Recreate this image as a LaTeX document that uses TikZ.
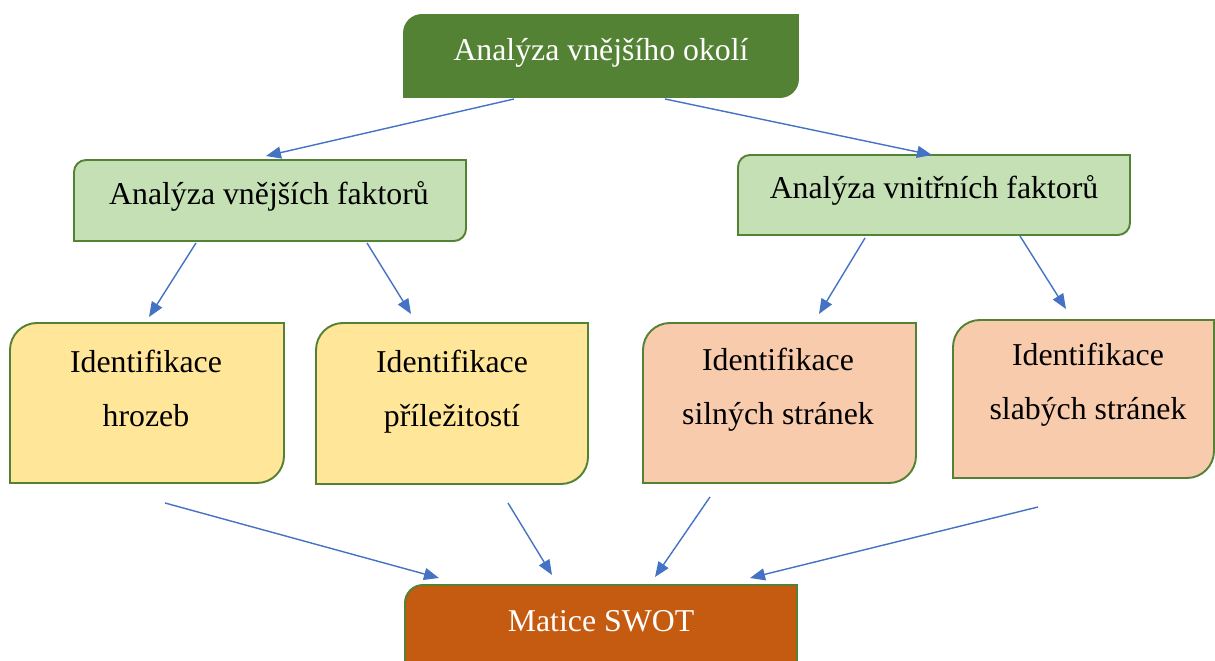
\documentclass[tikz,border=0pt]{standalone}
\usepackage{fontspec}
\setmainfont{Liberation Serif}
\usetikzlibrary{arrows.meta}
\definecolor{dkgreen}{HTML}{548235}
\definecolor{ltgreen}{HTML}{C5E0B4}
\definecolor{ltyellow}{HTML}{FFE699}
\definecolor{peach}{HTML}{F8CBAD}
\definecolor{burnt}{HTML}{C55A11}
\definecolor{arrowblue}{HTML}{4472C4}
% box with rounded top-left and bottom-right corners: left, top, right, bottom (px), radius, fill
\newcommand{\swotbox}[6]{\draw[boxline,fill=#6] (#1,-#2-#5) arc[start angle=180,end angle=90,radius=#5] -- (#3,-#2) -- (#3,-#4+#5) arc[start angle=0,end angle=-90,radius=#5] -- (#1,-#4) -- cycle;}
\begin{document}
\begin{tikzpicture}[x=0.02cm,y=0.02cm,
  lbl/.style={font=\fontsize{18.1}{31.3}\selectfont, align=center, inner sep=0pt, anchor=base},
  conn/.style={-{Triangle[length=0.3cm,width=0.24cm]}, draw=arrowblue, line width=0.8pt},
  boxline/.style={draw=dkgreen, line width=1.1pt}]
\useasboundingbox (0,0) rectangle (1215,-661);
% boxes
\swotbox{404}{15}{798}{97}{18}{dkgreen}
\swotbox{74}{160}{466}{241}{12}{ltgreen}
\swotbox{738}{155}{1130}{235}{12}{ltgreen}
\swotbox{10}{323}{284}{483}{27}{ltyellow}
\swotbox{316}{323}{588}{484}{27}{ltyellow}
\swotbox{643}{323}{916}{483}{27}{peach}
\swotbox{953}{320}{1214}{478}{27}{peach}
\swotbox{405}{585}{797}{700}{18}{burnt}
% labels (multi-line labels: base = last line's baseline)
\node[lbl, text=white] (okoli) at (601,-61) {Analýza vnějšího okolí};
\node[lbl] (vnejsi) at (269,-205) {Analýza vnějších faktorů};
\node[lbl] (vnitrni) at (934,-199) {Analýza vnitřních faktorů};
\node[lbl] (hrozby) at (146,-427) {Identifikace\\hrozeb};
\node[lbl] (prilez) at (452,-427) {Identifikace\\příležitostí};
\node[lbl] (silne) at (778,-425) {Identifikace\\silných stránek};
\node[lbl] (slabe) at (1088,-420) {Identifikace\\slabých stránek};
\node[lbl, text=white] (swot) at (601,-632) {Matice SWOT};
% connector end points
\coordinate (a1s) at (514,-99);  \coordinate (a1e) at (266,-156);
\coordinate (a2s) at (665,-99);  \coordinate (a2e) at (932,-155);
\coordinate (a3s) at (196,-243); \coordinate (a3e) at (149,-317);
\coordinate (a4s) at (367,-243); \coordinate (a4e) at (411,-314);
\coordinate (a5s) at (865,-238); \coordinate (a5e) at (819,-314);
\coordinate (a6s) at (1020,-236);\coordinate (a6e) at (1066,-309);
\coordinate (a7s) at (165,-503); \coordinate (a7e) at (439,-578);
\coordinate (a8s) at (508,-503); \coordinate (a8e) at (552,-575);
\coordinate (a9s) at (710,-497); \coordinate (a9e) at (655,-577);
\coordinate (a10s) at (1038,-507);\coordinate (a10e) at (750,-578);
\draw[conn] (a1s) -- (a1e);
\draw[conn] (a2s) -- (a2e);
\draw[conn] (a3s) -- (a3e);
\draw[conn] (a4s) -- (a4e);
\draw[conn] (a5s) -- (a5e);
\draw[conn] (a6s) -- (a6e);
\draw[conn] (a7s) -- (a7e);
\draw[conn] (a8s) -- (a8e);
\draw[conn] (a9s) -- (a9e);
\draw[conn] (a10s) -- (a10e);
\end{tikzpicture}
\end{document}
